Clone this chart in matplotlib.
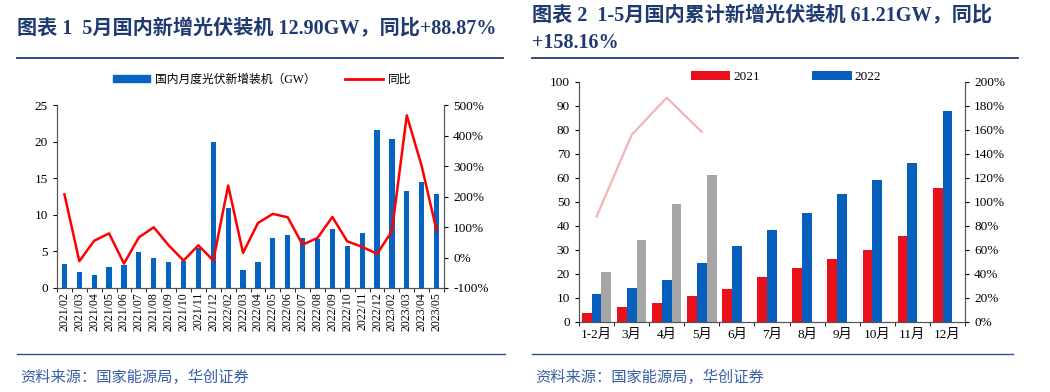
import matplotlib.pyplot as plt
from matplotlib.patches import Patch
from matplotlib.lines import Line2D

plt.rcParams['font.family'] = ['Liberation Serif', 'Noto Sans CJK SC']

# 图表1 数据
months = ['2021/02', '2021/03', '2021/04', '2021/05', '2021/06', '2021/07', '2021/08',
          '2021/09', '2021/10', '2021/11', '2021/12', '2022/02', '2022/03', '2022/04',
          '2022/05', '2022/06', '2022/07', '2022/08', '2022/09', '2022/10', '2022/11',
          '2022/12', '2023/02', '2023/03', '2023/04', '2023/05']
monthly_gw = [3.3, 2.2, 1.8, 2.9, 3.1, 4.9, 4.1, 3.5, 3.7, 5.5, 20.0, 10.9, 2.4,
              3.6, 6.8, 7.2, 6.8, 6.7, 8.1, 5.7, 7.5, 21.6, 20.3, 13.3, 14.5, 12.9]
monthly_yoy = [207, -12, 55, 79, -20, 66, 99, 40, -10, 40, -10, 236, 15, 113,
               143, 132, 42, 64, 133, 53, 35, 12, 86, 466, 300, 88.87]

# 图表2 数据
cum_cats = ['1-2月', '3月', '4月', '5月', '6月', '7月', '8月', '9月', '10月', '11月', '12月']
cum_2021 = [3.7, 6.2, 7.9, 10.7, 13.8, 18.7, 22.6, 26.3, 30.1, 35.6, 55.8]
cum_2022 = [11.6, 14.1, 17.6, 24.5, 31.7, 38.4, 45.3, 53.2, 58.9, 66.3, 88.0]
cum_2023 = [21.0, 34.2, 49.0, 61.21]
cum_yoy = [87.8, 155.7, 186.7, 158.16]

W, H = 1050, 392
fig = plt.figure(figsize=(W / 100, H / 100), dpi=100)


def fx(x):
    return x / W


def fy(y):
    return 1 - y / H


title_c = '#1f3a70'
src_c = '#3a5ea8'

# 标题
fig.text(fx(17), fy(28), '图表 1  5月国内新增光伏装机 12.90GW，同比+88.87%',
         fontsize=14.5, fontweight='bold', color=title_c, va='center', ha='left')
fig.text(fx(532), fy(15), '图表 2  1-5月国内累计新增光伏装机 61.21GW，同比',
         fontsize=14.5, fontweight='bold', color=title_c, va='center', ha='left')
fig.text(fx(532), fy(43), '+158.16%',
         fontsize=14.5, fontweight='bold', color=title_c, va='center', ha='left')

for x0, x1 in [(17, 503), (532, 1018)]:
    fig.add_artist(Line2D([fx(x0), fx(x1)], [fy(58), fy(58)], transform=fig.transFigure,
                          color=title_c, lw=1.3))
for x0, x1 in [(17, 505), (532, 1013)]:
    fig.add_artist(Line2D([fx(x0), fx(x1)], [fy(354), fy(354)], transform=fig.transFigure,
                          color='#2f4f8a', lw=1.0))

for x0 in [20, 535]:
    fig.text(fx(x0), fy(377), '资料来源：国家能源局，华创证券', fontsize=11,
             style='italic', color=src_c, va='center', ha='left')

# ---- 图表1
ax1 = fig.add_axes([fx(57), fy(288), fx(444) - fx(57), fy(105) - fy(288)])
xs = list(range(len(months)))
ax1.bar(xs, monthly_gw, width=0.35, color='#0563c1')
ax1.set_ylim(0, 25)
ax1.set_yticks([0, 5, 10, 15, 20, 25])
ax1.set_xlim(-0.5, len(months) - 0.5)
ax1.set_xticks(xs)
ax1.set_xticklabels(months, rotation=90, fontsize=8.5)
ax1.set_xticks([i + 0.5 for i in range(-1, len(months))], minor=True)
ax1.tick_params(axis='x', which='major', length=0, pad=3)
ax1.tick_params(axis='x', which='minor', length=3, direction='out')
ax1.tick_params(axis='y', labelsize=9.5, length=3)

ax1b = ax1.twinx()
ax1b.plot(xs, monthly_yoy, color='#ff0000', lw=1.8)
ax1b.set_ylim(-100, 500)
ax1b.set_yticks(range(-100, 501, 100))
ax1b.set_yticklabels([f'{v}%' for v in range(-100, 501, 100)])
ax1b.tick_params(axis='y', labelsize=9.5, length=3)

for a in (ax1, ax1b):
    a.spines['top'].set_visible(False)
    for s in a.spines.values():
        s.set_color('#555555')

handles = [Patch(color='#0563c1'), Line2D([], [], color='#ff0000', lw=2)]
ax1.legend(handles, ['国内月度光伏新增装机（GW）', '同比'], ncol=2, loc='center',
           bbox_to_anchor=(fx(262), fy(80)), bbox_transform=fig.transFigure,
           frameon=False, fontsize=8.5, handlelength=3.2, handleheight=0.5,
           columnspacing=2.5, handletextpad=0.4)

# ---- 图表2
ax2 = fig.add_axes([fx(579), fy(322), fx(965) - fx(579), fy(81.7) - fy(322)])
cx = list(range(len(cum_cats)))
bw = 0.28
ax2.bar([i - bw for i in cx], cum_2021, width=bw, color='#e8111b', label='2021')
ax2.bar(cx, cum_2022, width=bw, color='#075fbd', label='2022')
ax2.bar([i + bw for i in range(len(cum_2023))], cum_2023, width=bw, color='#a6a6a6')
ax2.set_ylim(0, 100)
ax2.set_yticks(range(0, 101, 10))
ax2.set_xlim(-0.5, len(cum_cats) - 0.5)
ax2.set_xticks(cx)
ax2.set_xticklabels(cum_cats, fontsize=9.5)
ax2.set_xticks([i + 0.5 for i in range(-1, len(cum_cats))], minor=True)
ax2.tick_params(axis='x', which='major', length=0, pad=5)
ax2.tick_params(axis='x', which='minor', length=3, direction='out')
ax2.tick_params(axis='y', labelsize=9.5, length=3)

ax2b = ax2.twinx()
ax2b.plot(range(len(cum_yoy)), cum_yoy, color='#f2b5b5', lw=1.6)
ax2b.set_ylim(0, 200)
ax2b.set_yticks(range(0, 201, 20))
ax2b.set_yticklabels([f'{v}%' for v in range(0, 201, 20)])
ax2b.tick_params(axis='y', labelsize=9.5, length=3)

for a in (ax2, ax2b):
    a.spines['top'].set_visible(False)
    for s in a.spines.values():
        s.set_color('#555555')

ax2.legend(ncol=2, loc='center', bbox_to_anchor=(fx(786), fy(77)),
           bbox_transform=fig.transFigure, frameon=False, fontsize=9.5,
           handlelength=3.0, handleheight=0.7, columnspacing=4.0, handletextpad=0.2)

fig.savefig('out.png', dpi=100)
